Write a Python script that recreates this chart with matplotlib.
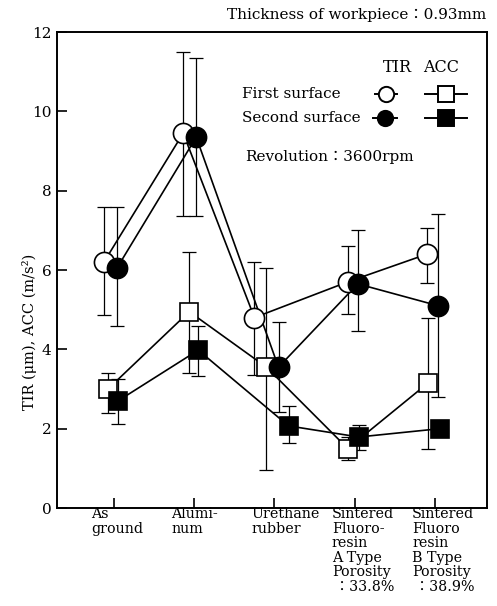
import matplotlib
matplotlib.use("Agg")
import matplotlib.pyplot as plt
from matplotlib.lines import Line2D
import numpy as np

# ---- data ----
categories = ["As\nground", "Alumi-\nnum", "Urethane\nrubber",
              "Sintered\nFluoro-\nresin\nA Type\nPorosity\n\u2009：33.8%",
              "Sintered\nFluoro\nresin\nB Type\nPorosity\n\u2009：38.9%"]
tir_first = [6.2, 9.45, 4.8, 5.7, 6.4]
tir_first_lo = [4.87, 7.37, 3.35, 4.9, 5.67]
tir_first_hi = [7.6, 11.5, 6.2, 6.6, 7.05]
tir_second = [6.05, 9.35, 3.55, 5.65, 5.1]
tir_second_lo = [4.6, 7.37, 2.42, 4.46, 2.8]
tir_second_hi = [7.6, 11.35, 4.7, 7.0, 7.4]
acc_first = [3.0, 4.95, 3.55, 1.5, 3.15]
acc_first_lo = [2.4, 3.4, 0.96, 1.2, 1.5]
acc_first_hi = [3.4, 6.45, 6.05, 1.8, 4.8]
acc_second = [2.7, 3.98, 2.07, 1.79, 2.0]
acc_second_lo = [2.12, 3.33, 1.64, 1.46, 1.85]
acc_second_hi = [3.25, 4.6, 2.57, 2.1, 2.15]
yticks = [0, 2, 4, 6, 8, 10, 12]

# ---- layout (horizontal marker offsets in category units) ----
dx_tir1 = np.array([-10, -11, -20, -7, -8]) / 80.0
dx_tir2 = np.array([3, 2, 4, 3, 3]) / 80.0
dx_acc1 = np.array([-6, -5, -8, -7, -7]) / 80.0
dx_acc2 = np.array([4, 4, 14, 4, 5]) / 80.0

SERIF = ['DejaVu Serif', 'Noto Sans CJK JP']
plt.rcParams['font.family'] = SERIF

fig = plt.figure(figsize=(4.97, 6.06), dpi=100)
ax = fig.add_axes([57/497, 1-508/606, 430/497, 476/606])

x = np.arange(1, 6)

def series(vals, lo, hi, dx, marker, face, ms):
    v = np.array(vals); lo = np.array(lo); hi = np.array(hi)
    xs = x + dx
    ax.errorbar(xs, v, yerr=[v - lo, hi - v], fmt='none', ecolor='black',
                elinewidth=0.9, capsize=5, capthick=0.9, zorder=2)
    ax.plot(xs, v, color='black', lw=1.2, zorder=3)
    ax.plot(xs, v, linestyle='none', marker=marker, ms=ms, mfc=face,
            mec='black', mew=1.2, zorder=4)

series(acc_first, acc_first_lo, acc_first_hi, dx_acc1, 's', 'white', 13.5)
series(acc_second, acc_second_lo, acc_second_hi, dx_acc2, 's', 'black', 13.5)
series(tir_first, tir_first_lo, tir_first_hi, dx_tir1, 'o', 'white', 14.5)
series(tir_second, tir_second_lo, tir_second_hi, dx_tir2, 'o', 'black', 14.5)

ax.set_xlim(0.29, 5.648)
ax.set_ylim(0, 12)
ax.set_yticks(yticks)
ax.set_yticklabels([str(t) for t in yticks], fontsize=11)
ax.set_xticks(x)
ax.set_xticklabels([])
ax.tick_params(direction='in', length=7, width=1.2, pad=4)
for s in ax.spines.values():
    s.set_linewidth(1.4)

# category labels, left aligned
for xi, lab in zip(x, categories):
    px = 57 + (xi - 0.29) * 80.25 - 23
    fig.text(px/497, 1-507/606, lab, ha='left', va='top', fontsize=10.3,
             linespacing=1.05, family=SERIF)

fig.text(30/497, 1-332/606, "TIR (μm), ACC (m/s²)", rotation=90,
         ha='center', va='center', fontsize=10.5, family=SERIF)
fig.text(486/497, 1-15/606, "Thickness of workpiece：0.93mm", ha='right',
         va='center', fontsize=11, family=SERIF)

# legend block
fig.text(397/497, 1-67/606, "TIR", ha='center', va='center', fontsize=11.5, family=SERIF)
fig.text(441/497, 1-67/606, "ACC", ha='center', va='center', fontsize=11.5, family=SERIF)
fig.text(242/497, 1-94/606, "First surface", ha='left', va='center', fontsize=11, family=SERIF)
fig.text(242/497, 1-118/606, "Second surface", ha='left', va='center', fontsize=11, family=SERIF)
fig.text(245/497, 1-157/606, "Revolution：3600rpm", ha='left', va='center', fontsize=11, family=SERIF)
for (x0, x1, yy, mk, fc) in [(375, 397, 94, 'o', 'white'), (425, 467, 94, 's', 'white'),
                             (373, 397, 118, 'o', 'black'), (425, 467, 118, 's', 'black')]:
    fig.add_artist(Line2D([x0/497, x1/497], [1-yy/606, 1-yy/606], color='black', lw=1.4))
    fig.add_artist(Line2D([(x0+x1)/2/497], [1-yy/606], marker=mk, ms=11, mfc=fc,
                          mec='black', mew=1.4, linestyle='none'))

fig.savefig("out.png", dpi=100)
